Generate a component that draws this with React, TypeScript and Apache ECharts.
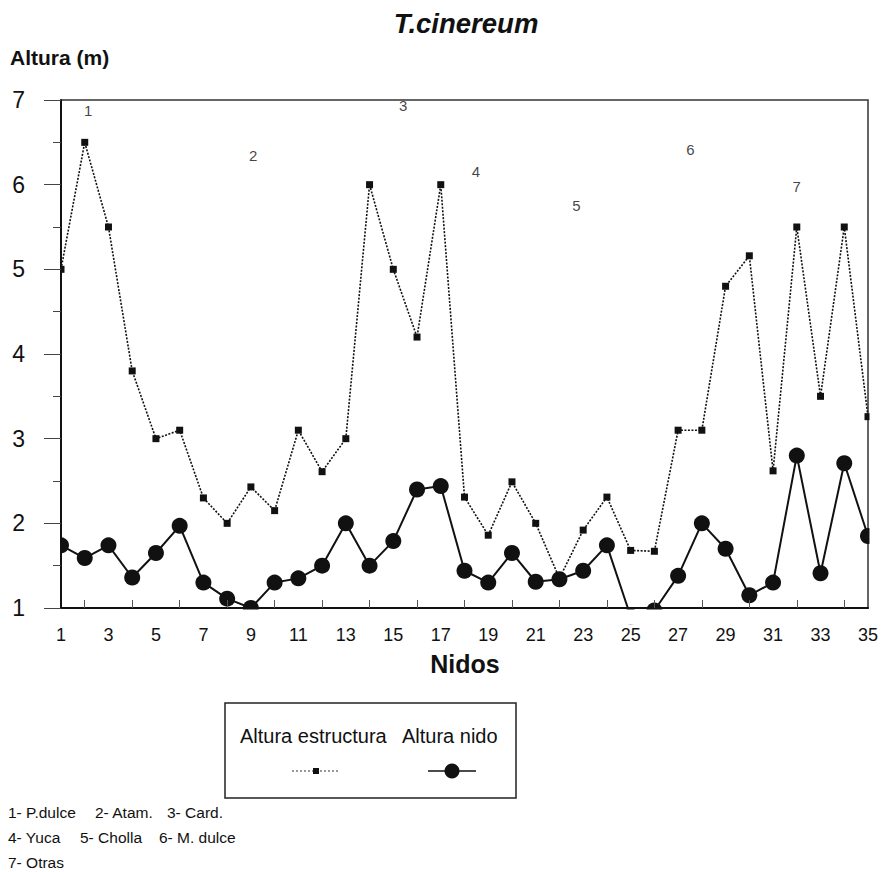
import { useEffect, useRef } from "react";
import * as echarts from "echarts";

// Nest numbers along the x axis
const nidos = [
  1, 2, 3, 4, 5, 6, 7, 8, 9, 10, 11, 12, 13, 14, 15, 16, 17, 18,
  19, 20, 21, 22, 23, 24, 25, 26, 27, 28, 29, 30, 31, 32, 33, 34, 35,
];

// Height of the supporting structure (m)
const alturaEstructura = [
  5.0, 6.5, 5.5, 3.8, 3.0, 3.1, 2.3, 2.0, 2.43, 2.15, 3.1, 2.61, 3.0, 6.0,
  5.0, 4.2, 6.0, 2.31, 1.86, 2.49, 2.0, 1.35, 1.92, 2.31, 1.68, 1.67, 3.1,
  3.1, 4.8, 5.16, 2.62, 5.5, 3.5, 5.5, 3.26,
];

// Height of the nest (m)
const alturaNido = [
  1.74, 1.59, 1.74, 1.36, 1.65, 1.97, 1.3, 1.11, 1.0, 1.3, 1.35, 1.5, 2.0,
  1.5, 1.79, 2.4, 2.44, 1.44, 1.3, 1.65, 1.31, 1.34, 1.44, 1.74, 0.9, 0.97,
  1.38, 2.0, 1.7, 1.15, 1.3, 2.8, 1.41, 2.71, 1.85,
];

// Plant-species codes written over the plot, anchored in data space
const codigosEspecie = ["1", "2", "3", "4", "5", "6", "7"];
const codigoX = [2.15, 9.1, 15.42, 18.48, 22.72, 27.52, 31.99];
const codigoY = [6.88, 6.35, 6.94, 6.15, 5.75, 6.42, 5.98];

// Key to the species codes, one row per line
const notasEspecie = [
  ["1- P.dulce", "2- Atam.", "3- Card."],
  ["4- Yuca", "5- Cholla", "6- M. dulce"],
  ["7- Otras"],
];

const yTicks = [1, 2, 3, 4, 5, 6, 7];
const xTicks = [1, 35];

const FONT = "'Liberation Sans', Arial, Helvetica, sans-serif";
const INK = "#111";

export default function App() {
  const ref = useRef<HTMLDivElement>(null);

  useEffect(() => {
    if (!ref.current) return;
    const chart = echarts.init(ref.current, undefined, { renderer: "svg" });

    const estructuraData = nidos.map((n, i) => [n, alturaEstructura[i]]);
    const nidoData = nidos.map((n, i) => [n, alturaNido[i]]);
    const codigoData = codigosEspecie.map((c, i) => ({
      value: [codigoX[i], codigoY[i]],
      name: c,
    }));

    const noteCols = [
      [8, 95, 167],
      [8, 80, 159],
      [8],
    ];
    const noteRowsY = [812, 837, 862];
    const notes: any[] = [];
    notasEspecie.forEach((row, r) =>
      row.forEach((t, c) =>
        notes.push({
          type: "text",
          x: noteCols[r][c],
          y: noteRowsY[r],
          z: 20,
          style: {
            text: t,
            fontSize: 15.5,
            fontFamily: FONT,
            fill: INK,
            verticalAlign: "middle",
          },
        })
      )
    );

    const cover = (x: number, y: number, w: number, h: number) => ({
      type: "rect",
      z: 5,
      shape: { x, y, width: w, height: h },
      style: { fill: "#fff" },
      silent: true,
    });

    chart.setOption({
      animation: false,
      backgroundColor: "#fff",
      textStyle: { fontFamily: FONT },
      grid: {
        left: 61,
        right: 14,
        top: 100,
        bottom: 264,
        show: true,
        borderColor: "#333",
        borderWidth: 1.5,
        backgroundColor: "transparent",
      },
      xAxis: {
        type: "value",
        min: xTicks[0],
        max: xTicks[1],
        interval: 2,
        z: 10,
        splitLine: { show: false },
        axisLine: { lineStyle: { color: INK, width: 2 } },
        axisTick: { show: false, inside: true },
        minorTick: {
          show: true,
          splitNumber: 2,
          length: 8,
          lineStyle: { color: "#555", width: 1 },
        },
        axisLabel: {
          fontSize: 18,
          color: INK,
          margin: 18,
          fontFamily: FONT,
        },
      },
      yAxis: {
        type: "value",
        min: yTicks[0],
        max: yTicks[yTicks.length - 1],
        interval: 1,
        z: 10,
        splitLine: { show: false },
        axisLine: { lineStyle: { color: INK, width: 2 } },
        axisTick: { show: true, length: 17, lineStyle: { color: "#444", width: 1 } },
        minorTick: {
          show: true,
          splitNumber: 2,
          length: 8,
          lineStyle: { color: "#444", width: 1 },
        },
        axisLabel: {
          fontSize: 23,
          color: INK,
          margin: 36,
          fontFamily: FONT,
        },
      },
      series: [
        {
          name: "Altura estructura",
          type: "line",
          clip: false,
          data: estructuraData,
          symbol: "rect",
          symbolSize: 7,
          lineStyle: { color: INK, width: 1.6, type: [2, 1.5] },
          itemStyle: { color: INK },
          silent: true,
        },
        {
          name: "Altura nido",
          type: "line",
          clip: false,
          data: nidoData,
          symbol: "circle",
          symbolSize: 16,
          lineStyle: { color: INK, width: 2 },
          itemStyle: { color: INK },
          silent: true,
        },
        {
          name: "Especie",
          type: "scatter",
          data: codigoData,
          symbolSize: 0.1,
          itemStyle: { color: "rgba(0,0,0,0)" },
          silent: true,
          label: {
            show: true,
            position: "inside",
            formatter: "{b}",
            fontSize: 15,
            color: INK,
            fontFamily: FONT,
          },
        },
      ],
      graphic: [
        // white bands outside the plot frame hide the overhanging parts of markers
        cover(30, 90, 30.5, 535),
        cover(30, 609.5, 852, 15),
        cover(869.5, 90, 12.5, 535),
        {
          type: "text",
          x: 466,
          y: 23,
          z: 20,
          style: {
            text: "T.cinereum",
            fontSize: 27.5,
            fontWeight: "bold",
            fontStyle: "italic",
            fontFamily: FONT,
            fill: INK,
            align: "center",
            verticalAlign: "middle",
          },
        },
        {
          type: "text",
          x: 10,
          y: 57,
          z: 20,
          style: {
            text: "Altura (m)",
            fontSize: 21,
            fontWeight: "bold",
            fontFamily: FONT,
            fill: INK,
            verticalAlign: "middle",
          },
        },
        {
          type: "text",
          x: 465,
          y: 664,
          z: 20,
          style: {
            text: "Nidos",
            fontSize: 25,
            fontWeight: "bold",
            fontFamily: FONT,
            fill: INK,
            align: "center",
            verticalAlign: "middle",
          },
        },
        // legend box
        {
          type: "rect",
          z: 20,
          shape: { x: 225, y: 703, width: 291, height: 95 },
          style: { fill: "#fff", stroke: "#222", lineWidth: 1.5 },
        },
        {
          type: "text",
          x: 240,
          y: 736,
          z: 21,
          style: {
            text: "Altura estructura",
            fontSize: 20,
            fontFamily: FONT,
            fill: INK,
            verticalAlign: "middle",
          },
        },
        {
          type: "text",
          x: 402,
          y: 736,
          z: 21,
          style: {
            text: "Altura nido",
            fontSize: 20,
            fontFamily: FONT,
            fill: INK,
            verticalAlign: "middle",
          },
        },
        {
          type: "line",
          z: 21,
          shape: { x1: 292, y1: 771, x2: 340, y2: 771 },
          style: { stroke: "#333", lineWidth: 1.2, lineDash: [2, 2] },
        },
        {
          type: "rect",
          z: 22,
          shape: { x: 313, y: 768, width: 6, height: 6 },
          style: { fill: INK },
        },
        {
          type: "line",
          z: 21,
          shape: { x1: 428, y1: 771, x2: 476, y2: 771 },
          style: { stroke: INK, lineWidth: 1.6 },
        },
        {
          type: "circle",
          z: 22,
          shape: { cx: 452, cy: 771, r: 7.5 },
          style: { fill: INK },
        },
        ...notes,
      ],
    });

    return () => chart.dispose();
  }, []);

  return (
    <div
      ref={ref}
      style={{ position: "fixed", left: 0, top: 0, width: 882, height: 872 }}
    />
  );
}
